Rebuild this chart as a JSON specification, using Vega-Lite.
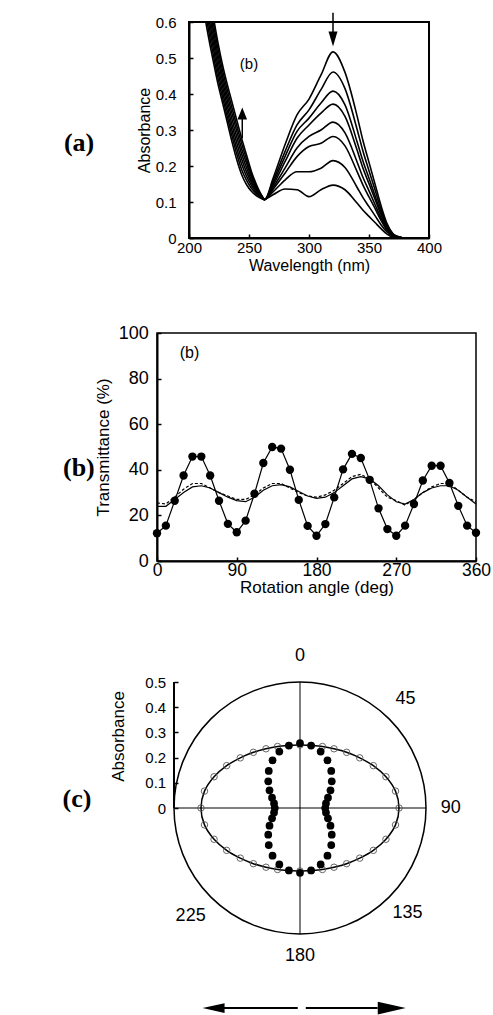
{
  "$schema": "https://vega.github.io/schema/vega-lite/v6.json",
  "background": "white",
  "padding": {"left": 61, "top": 10, "right": 0, "bottom": 0},
  "spacing": 49,
  "config": {
    "font": "Liberation Sans",
    "axis": {"grid": false, "domainColor": "#000", "domainWidth": 2, "tickColor": "#000", "tickWidth": 1.5, "labelColor": "#000", "titleColor": "#000", "labelFont": "Liberation Sans", "titleFont": "Liberation Sans", "titleFontWeight": "normal"}
  },
  "datasets": {
    "spacer": [{"s": 0}],
    "spectra": [
      {"nm": 212, "c1": 0.64, "c2": 0.663, "c3": 0.686, "c4": 0.709, "c5": 0.731, "c6": 0.754, "c7": 0.777, "c8": 0.8},
      {"nm": 214, "c1": 0.6, "c2": 0.623, "c3": 0.646, "c4": 0.669, "c5": 0.691, "c6": 0.714, "c7": 0.737, "c8": 0.76},
      {"nm": 217, "c1": 0.545, "c2": 0.564, "c3": 0.584, "c4": 0.603, "c5": 0.622, "c6": 0.641, "c7": 0.661, "c8": 0.68},
      {"nm": 220, "c1": 0.495, "c2": 0.513, "c3": 0.531, "c4": 0.549, "c5": 0.566, "c6": 0.584, "c7": 0.602, "c8": 0.62},
      {"nm": 224, "c1": 0.43, "c2": 0.446, "c3": 0.463, "c4": 0.479, "c5": 0.496, "c6": 0.512, "c7": 0.529, "c8": 0.545},
      {"nm": 228, "c1": 0.375, "c2": 0.39, "c3": 0.405, "c4": 0.42, "c5": 0.435, "c6": 0.45, "c7": 0.465, "c8": 0.48},
      {"nm": 232, "c1": 0.32, "c2": 0.335, "c3": 0.35, "c4": 0.365, "c5": 0.38, "c6": 0.395, "c7": 0.41, "c8": 0.425},
      {"nm": 236, "c1": 0.265, "c2": 0.281, "c3": 0.296, "c4": 0.312, "c5": 0.328, "c6": 0.344, "c7": 0.359, "c8": 0.375},
      {"nm": 240, "c1": 0.215, "c2": 0.231, "c3": 0.246, "c4": 0.262, "c5": 0.278, "c6": 0.294, "c7": 0.309, "c8": 0.325},
      {"nm": 244, "c1": 0.175, "c2": 0.189, "c3": 0.204, "c4": 0.218, "c5": 0.232, "c6": 0.246, "c7": 0.261, "c8": 0.275},
      {"nm": 248, "c1": 0.148, "c2": 0.16, "c3": 0.171, "c4": 0.183, "c5": 0.195, "c6": 0.207, "c7": 0.218, "c8": 0.23},
      {"nm": 252, "c1": 0.13, "c2": 0.138, "c3": 0.146, "c4": 0.154, "c5": 0.161, "c6": 0.169, "c7": 0.177, "c8": 0.185},
      {"nm": 256, "c1": 0.118, "c2": 0.123, "c3": 0.127, "c4": 0.132, "c5": 0.136, "c6": 0.141, "c7": 0.145, "c8": 0.15},
      {"nm": 260, "c1": 0.11, "c2": 0.112, "c3": 0.113, "c4": 0.115, "c5": 0.117, "c6": 0.119, "c7": 0.12, "c8": 0.122},
      {"nm": 263, "c1": 0.106, "c2": 0.106, "c3": 0.107, "c4": 0.107, "c5": 0.107, "c6": 0.107, "c7": 0.108, "c8": 0.108},
      {"nm": 270, "c1": 0.165, "c2": 0.158, "c3": 0.152, "c4": 0.146, "c5": 0.14, "c6": 0.135, "c7": 0.128, "c8": 0.12},
      {"nm": 280, "c1": 0.259, "c2": 0.24, "c3": 0.226, "c4": 0.212, "c5": 0.194, "c6": 0.18, "c7": 0.161, "c8": 0.136},
      {"nm": 290, "c1": 0.342, "c2": 0.314, "c3": 0.296, "c4": 0.277, "c5": 0.25, "c6": 0.226, "c7": 0.184, "c8": 0.134},
      {"nm": 300, "c1": 0.386, "c2": 0.356, "c3": 0.333, "c4": 0.314, "c5": 0.282, "c6": 0.254, "c7": 0.184, "c8": 0.115},
      {"nm": 310, "c1": 0.453, "c2": 0.412, "c3": 0.375, "c4": 0.347, "c5": 0.3, "c6": 0.263, "c7": 0.194, "c8": 0.134},
      {"nm": 320, "c1": 0.517, "c2": 0.461, "c3": 0.408, "c4": 0.372, "c5": 0.322, "c6": 0.282, "c7": 0.215, "c8": 0.147},
      {"nm": 330, "c1": 0.46, "c2": 0.415, "c3": 0.37, "c4": 0.338, "c5": 0.292, "c6": 0.256, "c7": 0.196, "c8": 0.134},
      {"nm": 340, "c1": 0.34, "c2": 0.303, "c3": 0.268, "c4": 0.245, "c5": 0.212, "c6": 0.185, "c7": 0.141, "c8": 0.097},
      {"nm": 345, "c1": 0.27, "c2": 0.241, "c3": 0.213, "c4": 0.194, "c5": 0.168, "c6": 0.147, "c7": 0.112, "c8": 0.077},
      {"nm": 350, "c1": 0.21, "c2": 0.187, "c3": 0.166, "c4": 0.151, "c5": 0.131, "c6": 0.114, "c7": 0.087, "c8": 0.06},
      {"nm": 355, "c1": 0.15, "c2": 0.134, "c3": 0.118, "c4": 0.108, "c5": 0.093, "c6": 0.082, "c7": 0.062, "c8": 0.043},
      {"nm": 360, "c1": 0.09, "c2": 0.08, "c3": 0.071, "c4": 0.065, "c5": 0.056, "c6": 0.049, "c7": 0.037, "c8": 0.026},
      {"nm": 365, "c1": 0.04, "c2": 0.036, "c3": 0.032, "c4": 0.029, "c5": 0.025, "c6": 0.022, "c7": 0.017, "c8": 0.011},
      {"nm": 370, "c1": 0.012, "c2": 0.011, "c3": 0.009, "c4": 0.009, "c5": 0.007, "c6": 0.007, "c7": 0.005, "c8": 0.003},
      {"nm": 375, "c1": 0.003, "c2": 0.003, "c3": 0.002, "c4": 0.002, "c5": 0.002, "c6": 0.002, "c7": 0.001, "c8": 0.001},
      {"nm": 380, "c1": 0, "c2": 0, "c3": 0, "c4": 0, "c5": 0, "c6": 0, "c7": 0, "c8": 0},
      {"nm": 400, "c1": 0, "c2": 0, "c3": 0, "c4": 0, "c5": 0, "c6": 0, "c7": 0, "c8": 0}
    ],
    "b_dots": [
      {"deg": 0, "t": 12.2}, {"deg": 10, "t": 15.5}, {"deg": 20, "t": 26.4}, {"deg": 30, "t": 37.5},
      {"deg": 40, "t": 45.8}, {"deg": 50, "t": 45.8}, {"deg": 60, "t": 37.5}, {"deg": 70, "t": 26.4},
      {"deg": 80, "t": 16.3}, {"deg": 90, "t": 12.6}, {"deg": 100, "t": 17.7}, {"deg": 110, "t": 29.5},
      {"deg": 120, "t": 43}, {"deg": 130, "t": 50}, {"deg": 140, "t": 49.3}, {"deg": 150, "t": 40},
      {"deg": 160, "t": 26.8}, {"deg": 170, "t": 15.4}, {"deg": 180, "t": 11.1}, {"deg": 190, "t": 16.2},
      {"deg": 200, "t": 27.9}, {"deg": 210, "t": 40.2}, {"deg": 220, "t": 47}, {"deg": 230, "t": 45.2},
      {"deg": 240, "t": 35.6}, {"deg": 250, "t": 23.1}, {"deg": 260, "t": 14}, {"deg": 270, "t": 11.1},
      {"deg": 280, "t": 15.5}, {"deg": 290, "t": 25}, {"deg": 300, "t": 35.3}, {"deg": 310, "t": 41.8},
      {"deg": 320, "t": 41.8}, {"deg": 330, "t": 34.2}, {"deg": 340, "t": 24.2}, {"deg": 350, "t": 15.5},
      {"deg": 360, "t": 12.4}
    ],
    "b_s1": [
      {"deg": 0, "t": 24}, {"deg": 10, "t": 24}, {"deg": 20, "t": 27}, {"deg": 30, "t": 30},
      {"deg": 40, "t": 32.5}, {"deg": 50, "t": 33}, {"deg": 60, "t": 32}, {"deg": 70, "t": 30},
      {"deg": 80, "t": 28}, {"deg": 90, "t": 26.5}, {"deg": 100, "t": 26}, {"deg": 110, "t": 28},
      {"deg": 120, "t": 31}, {"deg": 130, "t": 33}, {"deg": 140, "t": 33.5}, {"deg": 150, "t": 32.5},
      {"deg": 160, "t": 30.5}, {"deg": 170, "t": 28.5}, {"deg": 180, "t": 27.5}, {"deg": 190, "t": 28},
      {"deg": 200, "t": 30}, {"deg": 210, "t": 33}, {"deg": 220, "t": 36}, {"deg": 230, "t": 37},
      {"deg": 240, "t": 36}, {"deg": 250, "t": 33}, {"deg": 260, "t": 29}, {"deg": 270, "t": 26},
      {"deg": 280, "t": 25}, {"deg": 290, "t": 27}, {"deg": 300, "t": 30}, {"deg": 310, "t": 32},
      {"deg": 320, "t": 33}, {"deg": 330, "t": 33}, {"deg": 340, "t": 31}, {"deg": 350, "t": 28},
      {"deg": 360, "t": 25}
    ],
    "b_s2": [
      {"deg": 0, "t": 25.5}, {"deg": 10, "t": 25}, {"deg": 20, "t": 28}, {"deg": 30, "t": 31.5},
      {"deg": 40, "t": 34}, {"deg": 50, "t": 34}, {"deg": 60, "t": 32}, {"deg": 70, "t": 30},
      {"deg": 80, "t": 28.5}, {"deg": 90, "t": 27}, {"deg": 100, "t": 27}, {"deg": 110, "t": 29},
      {"deg": 120, "t": 32}, {"deg": 130, "t": 34}, {"deg": 140, "t": 34}, {"deg": 150, "t": 32},
      {"deg": 160, "t": 30}, {"deg": 170, "t": 28.5}, {"deg": 180, "t": 28}, {"deg": 190, "t": 29},
      {"deg": 200, "t": 31}, {"deg": 210, "t": 34}, {"deg": 220, "t": 37}, {"deg": 230, "t": 38},
      {"deg": 240, "t": 36}, {"deg": 250, "t": 32}, {"deg": 260, "t": 28}, {"deg": 270, "t": 26.5},
      {"deg": 280, "t": 24.5}, {"deg": 290, "t": 27}, {"deg": 300, "t": 30}, {"deg": 310, "t": 32.5},
      {"deg": 320, "t": 34}, {"deg": 330, "t": 34}, {"deg": 340, "t": 31}, {"deg": 350, "t": 28},
      {"deg": 360, "t": 26}
    ],
    "c_open": [
      {"ang": 0, "x": 0, "y": 0.25}, {"ang": 10, "x": 0.044, "y": 0.248}, {"ang": 20, "x": 0.089, "y": 0.244},
      {"ang": 30, "x": 0.135, "y": 0.235}, {"ang": 40, "x": 0.185, "y": 0.221}, {"ang": 50, "x": 0.237, "y": 0.199},
      {"ang": 60, "x": 0.291, "y": 0.168}, {"ang": 70, "x": 0.341, "y": 0.124}, {"ang": 80, "x": 0.379, "y": 0.067},
      {"ang": 90, "x": 0.393, "y": 0}, {"ang": 100, "x": 0.379, "y": -0.067}, {"ang": 110, "x": 0.341, "y": -0.124},
      {"ang": 120, "x": 0.291, "y": -0.168}, {"ang": 130, "x": 0.237, "y": -0.199}, {"ang": 140, "x": 0.185, "y": -0.221},
      {"ang": 150, "x": 0.135, "y": -0.235}, {"ang": 160, "x": 0.089, "y": -0.244}, {"ang": 170, "x": 0.044, "y": -0.248},
      {"ang": 180, "x": 0, "y": -0.25}, {"ang": 190, "x": -0.044, "y": -0.248}, {"ang": 200, "x": -0.089, "y": -0.244},
      {"ang": 210, "x": -0.135, "y": -0.235}, {"ang": 220, "x": -0.185, "y": -0.221}, {"ang": 230, "x": -0.237, "y": -0.199},
      {"ang": 240, "x": -0.291, "y": -0.168}, {"ang": 250, "x": -0.341, "y": -0.124}, {"ang": 260, "x": -0.379, "y": -0.067},
      {"ang": 270, "x": -0.393, "y": 0}, {"ang": 280, "x": -0.379, "y": 0.067}, {"ang": 290, "x": -0.341, "y": 0.124},
      {"ang": 300, "x": -0.291, "y": 0.168}, {"ang": 310, "x": -0.237, "y": 0.199}, {"ang": 320, "x": -0.185, "y": 0.221},
      {"ang": 330, "x": -0.135, "y": 0.235}, {"ang": 340, "x": -0.089, "y": 0.244}, {"ang": 350, "x": -0.044, "y": 0.248}
    ],
    "c_filled": [
      {"ang": 0, "x": 0, "y": 0.257}, {"ang": 10, "x": 0.044, "y": 0.248}, {"ang": 20, "x": 0.082, "y": 0.224},
      {"ang": 30, "x": 0.109, "y": 0.189}, {"ang": 40, "x": 0.124, "y": 0.147}, {"ang": 50, "x": 0.126, "y": 0.106},
      {"ang": 60, "x": 0.121, "y": 0.07}, {"ang": 70, "x": 0.111, "y": 0.041}, {"ang": 80, "x": 0.103, "y": 0.018},
      {"ang": 90, "x": 0.1, "y": 0}, {"ang": 100, "x": 0.103, "y": -0.018}, {"ang": 110, "x": 0.111, "y": -0.041},
      {"ang": 120, "x": 0.121, "y": -0.07}, {"ang": 130, "x": 0.126, "y": -0.106}, {"ang": 140, "x": 0.124, "y": -0.147},
      {"ang": 150, "x": 0.109, "y": -0.189}, {"ang": 160, "x": 0.082, "y": -0.224}, {"ang": 170, "x": 0.044, "y": -0.248},
      {"ang": 180, "x": 0, "y": -0.257}, {"ang": 190, "x": -0.044, "y": -0.248}, {"ang": 200, "x": -0.082, "y": -0.224},
      {"ang": 210, "x": -0.109, "y": -0.189}, {"ang": 220, "x": -0.124, "y": -0.147}, {"ang": 230, "x": -0.126, "y": -0.106},
      {"ang": 240, "x": -0.121, "y": -0.07}, {"ang": 250, "x": -0.111, "y": -0.041}, {"ang": 260, "x": -0.103, "y": -0.018},
      {"ang": 270, "x": -0.1, "y": 0}, {"ang": 280, "x": -0.103, "y": 0.018}, {"ang": 290, "x": -0.111, "y": 0.041},
      {"ang": 300, "x": -0.121, "y": 0.07}, {"ang": 310, "x": -0.126, "y": 0.106}, {"ang": 320, "x": -0.124, "y": 0.147},
      {"ang": 330, "x": -0.109, "y": 0.189}, {"ang": 340, "x": -0.082, "y": 0.224}, {"ang": 350, "x": -0.044, "y": 0.248}
    ]
  },
  "vconcat": [
    {
      "spacing": 0,
      "hconcat": [
        {"width": 1, "height": 1, "view": {"stroke": null}, "data": {"name": "spacer"}, "mark": {"type": "point", "size": 0, "opacity": 0}},
        {
          "width": 240,
          "height": 216,
          "view": {"stroke": "#000", "strokeWidth": 2},
          "encoding": {
            "x": {"field": "nm", "type": "quantitative", "scale": {"domain": [200, 400], "nice": false, "zero": false},
              "axis": {"values": [200, 250, 300, 350, 400], "title": "Wavelength (nm)", "tickSize": -4, "labelPadding": 6, "labelFontSize": 15, "titleFontSize": 16, "titlePadding": 2, "labelFlush": false}},
            "y": {"field": "a", "type": "quantitative", "scale": {"domain": [0, 0.6], "nice": false},
              "axis": {"values": [0, 0.1, 0.2, 0.3, 0.4, 0.5, 0.6], "format": ".1~f", "title": "Absorbance", "tickSize": -4, "labelPadding": 17, "labelFontSize": 15, "titleFontSize": 16, "titlePadding": 3, "labelFlush": false}}
          },
          "layer": [
            {"data": {"name": "spectra"},
             "transform": [{"fold": ["c1", "c2", "c3", "c4", "c5", "c6", "c7", "c8"], "as": ["curve", "a"]}],
             "mark": {"type": "line", "clip": true, "color": "#000", "strokeWidth": 1.6, "interpolate": "monotone"},
             "encoding": {"detail": {"field": "curve"}}},
            {"data": {"values": [{"nm": 320, "a": 0.626, "a2": 0.56}, {"nm": 244.4, "a": 0.277, "a2": 0.34}]},
             "mark": {"type": "rule", "color": "#000", "strokeWidth": 1.5},
             "encoding": {"y2": {"field": "a2"}}},
            {"data": {"values": [{"nm": 320, "a": 0.553}]},
             "mark": {"type": "point", "shape": "M-0.6,-1L0,1L0.6,-1Z", "filled": true, "color": "#000", "size": 225, "opacity": 1}},
            {"data": {"values": [{"nm": 244.4, "a": 0.346}]},
             "mark": {"type": "point", "shape": "M-0.8,1L0,-1L0.8,1Z", "filled": true, "color": "#000", "size": 144, "opacity": 1}},
            {"data": {"values": [{"nm": 250, "a": 0.483, "label": "(b)"}]},
             "mark": {"type": "text", "fontSize": 15, "font": "Liberation Sans", "color": "#000"},
             "encoding": {"text": {"field": "label"}}},
            {"data": {"values": [{"nm": 95.8, "a": 0.264, "label": "(a)"}]},
             "mark": {"type": "text", "align": "left", "baseline": "middle", "fontSize": 26, "font": "Liberation Serif", "fontWeight": "bold", "color": "#000"},
             "encoding": {"text": {"field": "label"}}}
          ]
        }
      ]
    },
    {
      "spacing": 0,
      "hconcat": [
        {"width": 1, "height": 1, "view": {"stroke": null}, "data": {"name": "spacer"}, "mark": {"type": "point", "size": 0, "opacity": 0}},
        {
          "width": 319,
          "height": 228,
          "view": {"stroke": "#000", "strokeWidth": 1.5},
          "encoding": {
            "x": {"field": "deg", "type": "quantitative", "scale": {"domain": [0, 360], "nice": false},
              "axis": {"values": [0, 90, 180, 270, 360], "title": "Rotation angle (deg)", "tickSize": -4, "labelPadding": 4, "labelFontSize": 17.5, "titleFontSize": 17, "titlePadding": 1, "labelFlush": false}},
            "y": {"field": "t", "type": "quantitative", "scale": {"domain": [0, 100], "nice": false},
              "axis": {"values": [0, 20, 40, 60, 80, 100], "title": "Transmittance (%)", "tickSize": -4, "labelPadding": 12.7, "labelFontSize": 18, "titleFontSize": 17, "titlePadding": 6, "labelFlush": false}}
          },
          "layer": [
            {"data": {"name": "b_s1"}, "mark": {"type": "line", "color": "#000", "strokeWidth": 1.2}},
            {"data": {"name": "b_s2"}, "mark": {"type": "line", "color": "#000", "strokeWidth": 1.2, "strokeDash": [3, 2]}},
            {"data": {"name": "b_dots"}, "mark": {"type": "line", "color": "#000", "strokeWidth": 1.2}},
            {"data": {"name": "b_dots"}, "mark": {"type": "point", "filled": true, "color": "#000", "size": 70, "opacity": 1}},
            {"data": {"values": [{"deg": 36.7, "t": 91.4, "label": "(b)"}]},
             "mark": {"type": "text", "fontSize": 16, "font": "Liberation Sans", "color": "#000"},
             "encoding": {"text": {"field": "label"}}},
            {"data": {"values": [{"deg": -106.1, "t": 40.8, "label": "(b)"}]},
             "mark": {"type": "text", "align": "left", "baseline": "middle", "fontSize": 26, "font": "Liberation Serif", "fontWeight": "bold", "color": "#000"},
             "encoding": {"text": {"field": "label"}}}
          ]
        }
      ]
    },
    {
      "spacing": 0,
      "hconcat": [
        {"width": 1, "height": 1, "view": {"stroke": null}, "data": {"name": "spacer"}, "mark": {"type": "point", "size": 0, "opacity": 0}},
        {
          "width": 252,
          "height": 252,
          "view": {"stroke": null},
          "encoding": {
            "x": {"field": "x", "type": "quantitative", "scale": {"domain": [-0.5, 0.5], "nice": false}, "axis": null},
            "y": {"field": "y", "type": "quantitative", "scale": {"domain": [-0.5, 0.5], "nice": false},
              "axis": {"values": [0, 0.1, 0.2, 0.3, 0.4, 0.5], "format": ".1~f", "title": null, "domain": false, "tickSize": -4, "labelPadding": 12.3, "labelFontSize": 15, "labelFlush": false}}
          },
          "layer": [
            {"data": {"values": [{"x": 0, "y": 0}]},
             "mark": {"type": "point", "shape": "circle", "size": 63504, "filled": false, "stroke": "#000", "strokeWidth": 1.5, "opacity": 1}},
            {"data": {"values": [{"x": 0, "y": -0.5, "y2": 0.5}]},
             "mark": {"type": "rule", "color": "#000", "strokeWidth": 1},
             "encoding": {"y2": {"field": "y2"}}},
            {"data": {"values": [{"x": -0.5, "x2": 0.5, "y": 0}]},
             "mark": {"type": "rule", "color": "#000", "strokeWidth": 1},
             "encoding": {"x2": {"field": "x2"}}},
            {"data": {"values": [{"x": -0.5, "y": 0, "y2": 0.5}]},
             "mark": {"type": "rule", "color": "#000", "strokeWidth": 2},
             "encoding": {"y2": {"field": "y2"}}},
            {"data": {"name": "c_open"},
             "mark": {"type": "line", "color": "#000", "strokeWidth": 1.5, "interpolate": "cardinal-closed"},
             "encoding": {"order": {"field": "ang", "type": "quantitative"}}},
            {"data": {"name": "c_open"},
             "mark": {"type": "point", "shape": "circle", "filled": false, "stroke": "#555", "strokeWidth": 0.9, "size": 42, "opacity": 1}},
            {"data": {"name": "c_filled"},
             "mark": {"type": "point", "shape": "circle", "filled": true, "color": "#000", "size": 60, "opacity": 1}},
            {"data": {"values": [
                {"x": 0, "y": 0.604, "label": "0"}, {"x": 0.419, "y": 0.433, "label": "45"},
                {"x": 0.598, "y": 0, "label": "90"}, {"x": 0.427, "y": -0.418, "label": "135"},
                {"x": 0, "y": -0.586, "label": "180"}, {"x": -0.434, "y": -0.427, "label": "225"}]},
             "mark": {"type": "text", "fontSize": 18, "font": "Liberation Sans", "color": "#000"},
             "encoding": {"text": {"field": "label"}}},
            {"data": {"values": [{"x": -0.718, "y": 0.284, "label": "Absorbance"}]},
             "mark": {"type": "text", "angle": 270, "fontSize": 17, "font": "Liberation Sans", "color": "#000"},
             "encoding": {"text": {"field": "label"}}},
            {"data": {"values": [{"x": -0.942, "y": 0.036, "label": "(c)"}]},
             "mark": {"type": "text", "align": "left", "baseline": "middle", "fontSize": 26, "font": "Liberation Serif", "fontWeight": "bold", "color": "#000"},
             "encoding": {"text": {"field": "label"}}},
            {"data": {"values": [{"x": -0.362, "x2": -0.009, "y": -0.794}, {"x": 0.023, "x2": 0.308, "y": -0.794}]},
             "mark": {"type": "rule", "color": "#000", "strokeWidth": 2},
             "encoding": {"x2": {"field": "x2"}}},
            {"data": {"values": [{"x": 0.364, "y": -0.794}]},
             "mark": {"type": "point", "shape": "M-1,-0.45L1,0L-1,0.45Z", "filled": true, "color": "#000", "size": 784, "opacity": 1}},
            {"data": {"values": [{"x": -0.343, "y": -0.794}]},
             "mark": {"type": "point", "shape": "M1,-0.45L-1,0L1,0.45Z", "filled": true, "color": "#000", "size": 484, "opacity": 1}}
          ]
        }
      ]
    }
  ]
}
